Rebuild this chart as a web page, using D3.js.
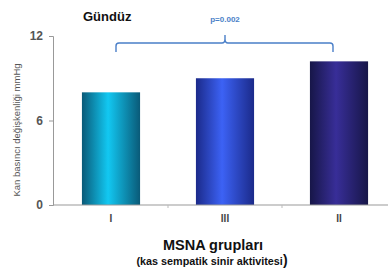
<!DOCTYPE html>
<html><head><meta charset="utf-8">
<script src="https://cdn.jsdelivr.net/npm/d3@7"></script>
<style>body{margin:0;background:#fff}svg{display:block}</style>
</head><body>
<script>
const categories = ["I", "III", "II"];
const values = [8.0, 9.0, 10.2];
const yTicks = [0, 6, 12];
const title = "Gündüz";
const yLabel = "Kan basıncı değişkenliği mmHg";
const xTitle = "MSNA grupları";
const xSub = "(kas sempatik sinir aktivitesi";
const pText = "p=0.002";
const barColors = [
  ["#0a5a78", "#12c8f2", "#0a5a78"],
  ["#1b2a8a", "#3c62f5", "#1b2a8a"],
  ["#171648", "#382e98", "#171648"]
];

const W = 388, H = 269;
const svg = d3.select("body").append("svg").attr("width", W).attr("height", H);
const defs = svg.append("defs");
barColors.forEach((c, i) => {
  const g = defs.append("linearGradient").attr("id", "g" + i).attr("x1", 0).attr("x2", 1).attr("y1", 0).attr("y2", 0);
  g.append("stop").attr("offset", "0%").attr("stop-color", c[0]);
  g.append("stop").attr("offset", "45%").attr("stop-color", c[1]);
  g.append("stop").attr("offset", "100%").attr("stop-color", c[2]);
});

const x = d3.scaleBand().domain(categories).range([54, 396]).paddingInner(0.49).paddingOuter(0.245);
const y = d3.scaleLinear().domain([0, 12]).range([205, 36]);

// bars
svg.selectAll("rect.bar").data(values).enter().append("rect")
  .attr("class", "bar")
  .attr("x", (d, i) => x(categories[i]))
  .attr("width", x.bandwidth())
  .attr("y", d => y(d))
  .attr("height", d => y(0) - y(d))
  .attr("fill", (d, i) => `url(#g${i})`);

// y axis
const ya = svg.append("g").attr("transform", "translate(53,0)")
  .call(d3.axisLeft(y).tickValues(yTicks).tickSize(4).tickPadding(6));
ya.select(".domain").attr("stroke", "#999");
ya.selectAll(".tick line").attr("stroke", "#999");
ya.selectAll(".tick text").attr("font-family", "Liberation Sans, Arial, sans-serif")
  .attr("font-size", 12).attr("font-weight", "bold").attr("fill", "#555");

// x axis
const xa = svg.append("g").attr("transform", `translate(0,${y(0)})`)
  .call(d3.axisBottom(x).tickSize(0).tickPadding(10));
xa.select(".domain").attr("stroke", "#999").attr("d", `M53,0H396`);
xa.selectAll(".tick text").attr("font-family", "Liberation Sans, Arial, sans-serif")
  .attr("font-size", 10).attr("font-weight", "bold").attr("fill", "#444");
// small separators between categories
const step = x.step();
categories.slice(1).forEach(c => {
  const xs = x(c) - (step - x.bandwidth()) / 2;
  svg.append("line").attr("x1", xs).attr("x2", xs).attr("y1", y(0)).attr("y2", y(0) + 3).attr("stroke", "#bbb");
});

// title
svg.append("text").attr("x", 83).attr("y", 21).text(title)
  .attr("font-family", "Liberation Sans, Arial, sans-serif").attr("font-size", 13).attr("font-weight", "bold").attr("fill", "#111");

// y label
svg.append("text").attr("transform", `translate(20,130) rotate(-90)`)
  .attr("text-anchor", "middle").text(yLabel)
  .attr("font-family", "Liberation Sans, Arial, sans-serif").attr("font-size", 9.5).attr("fill", "#555");

// bracket
const bx1 = x(categories[0]) + x.bandwidth() / 2 + 5;
const bx2 = x(categories[2]) + x.bandwidth() / 2 - 6;
const bm = x(categories[1]) + x.bandwidth() / 2;
const by = 43;
svg.append("path")
  .attr("d", `M${bx1},52 V${by + 3} Q${bx1},${by} ${bx1 + 3},${by} H${bm - 3} Q${bm},${by} ${bm},${by - 4} V35 M${bm},${by - 4} Q${bm},${by} ${bm + 3},${by} H${bx2 - 3} Q${bx2},${by} ${bx2},${by + 3} V52`)
  .attr("fill", "none").attr("stroke", "#4a7fc8").attr("stroke-width", 1.4);
svg.append("text").attr("x", bm).attr("y", 22).attr("text-anchor", "middle").text(pText)
  .attr("font-family", "Liberation Sans, Arial, sans-serif").attr("font-size", 8).attr("font-weight", "bold").attr("fill", "#4a7fc8");

// x titles
svg.append("text").attr("x", 213).attr("y", 250).attr("text-anchor", "middle").text(xTitle)
  .attr("font-family", "Liberation Sans, Arial, sans-serif").attr("font-size", 14.5).attr("font-weight", "bold").attr("fill", "#111");
const sub = svg.append("text").attr("x", 212).attr("y", 265).attr("text-anchor", "middle")
  .attr("font-family", "Liberation Sans, Arial, sans-serif").attr("font-size", 10.8).attr("font-weight", "bold").attr("fill", "#111");
sub.append("tspan").text(xSub);
sub.append("tspan").text(")").attr("font-size", 14);
</script>
</body></html>
